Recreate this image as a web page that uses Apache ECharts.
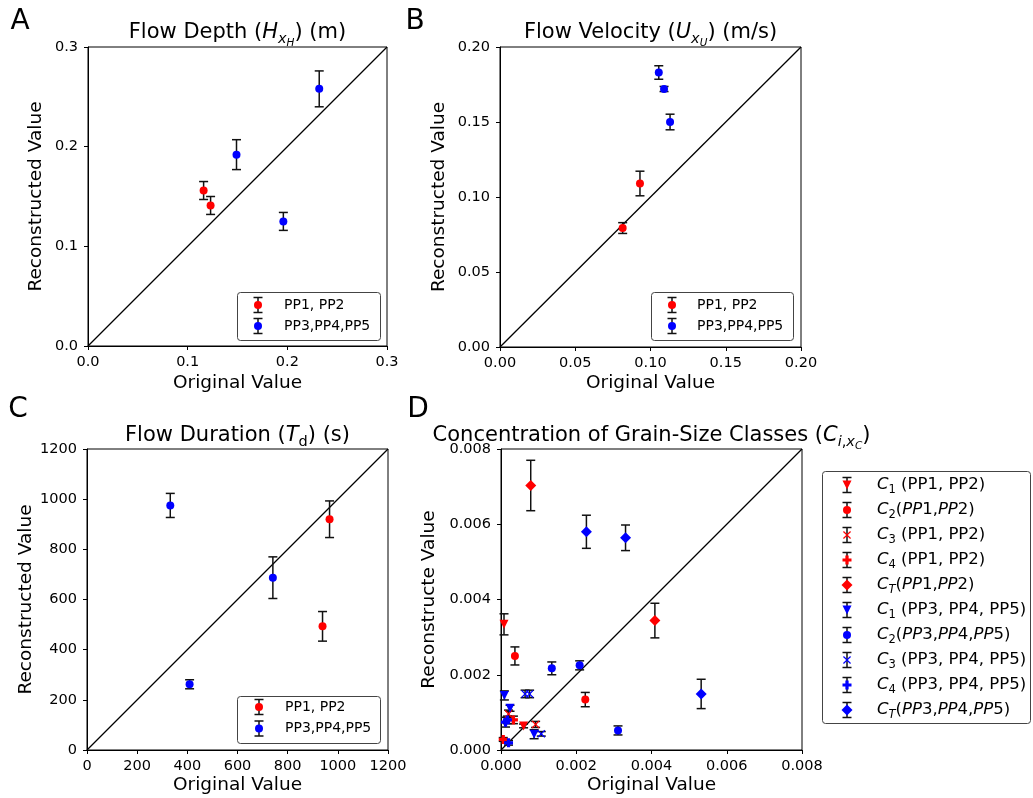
<!DOCTYPE html>
<html>
<head>
<meta charset="utf-8">
<script src="https://cdn.jsdelivr.net/npm/echarts/dist/echarts.min.js"></script>
<style>
  html, body { margin: 0; padding: 0; background: #fff; }
  #chart { width: 1033px; height: 798px; }
</style>
</head>
<body>
<div id="chart"></div>
<script>
// ---------- Panel A: flow depth (m) ----------
const depthRedX = [0.116, 0.123];
const depthRedY = [0.156, 0.141];
const depthRedErr = [0.009, 0.009];
const depthBlueX = [0.149, 0.196, 0.232];
const depthBlueY = [0.192, 0.125, 0.258];
const depthBlueErr = [0.015, 0.009, 0.018];
const depthTicks = [0.0, 0.1, 0.2, 0.3];

// ---------- Panel B: flow velocity (m/s) ----------
const velRedX = [0.0815, 0.093];
const velRedY = [0.0793, 0.109];
const velRedErr = [0.0036, 0.0082];
const velBlueX = [0.1055, 0.109, 0.113];
const velBlueY = [0.183, 0.172, 0.150];
const velBlueErr = [0.0045, 0.0017, 0.0052];
const velTicks = [0.00, 0.05, 0.10, 0.15, 0.20];

// ---------- Panel C: flow duration (s) ----------
const durRedX = [967, 939];
const durRedY = [920, 493];
const durRedErr = [73, 59];
const durBlueX = [332, 409, 741];
const durBlueY = [975, 262, 687];
const durBlueErr = [48, 18, 83];
const durTicks = [0, 200, 400, 600, 800, 1000, 1200];

// ---------- Panel D: grain-size class concentrations ----------
const c1RedX = [0.00008, 0.0006];
const c1RedY = [0.00334, 0.00064];
const c1RedErr = [0.00028, 0.00005];
const c2RedX = [0.00037, 0.00224];
const c2RedY = [0.0025, 0.00134];
const c2RedErr = [0.00024, 0.00019];
const c3RedX = [0.00092, 0.0002];
const c3RedY = [0.00068, 0.00096];
const c3RedErr = [0.00008, 0.0001];
const c4RedX = [0.00033, 0.00006];
const c4RedY = [0.0008, 0.00028];
const c4RedErr = [0.0001, 0.00005];
const ctRedX = [0.00079, 0.00409];
const ctRedY = [0.00703, 0.00344];
const ctRedErr = [0.00067, 0.00046];
const c1BlueX = [0.00009, 0.00024, 0.00088];
const c1BlueY = [0.00145, 0.00111, 0.00042];
const c1BlueErr = [0.00012, 0.00008, 0.00012];
const c2BlueX = [0.00135, 0.00209, 0.00311];
const c2BlueY = [0.00217, 0.00225, 0.00052];
const c2BlueErr = [0.00017, 0.00012, 0.00012];
const c3BlueX = [0.00064, 0.00076, 0.00107];
const c3BlueY = [0.00149, 0.00149, 0.00043];
const c3BlueErr = [0.0001, 0.0001, 0.00006];
const c4BlueX = [0.00012, 0.0002, 0.00017];
const c4BlueY = [0.00074, 0.00019, 0.0008];
const c4BlueErr = [0.00013, 0.00006, 0.0001];
const ctBlueX = [0.00227, 0.00331, 0.00532];
const ctBlueY = [0.0058, 0.00564, 0.00149];
const ctBlueErr = [0.00044, 0.00034, 0.00039];
const concTicks = [0.000, 0.002, 0.004, 0.006, 0.008];

const FONT = 'DejaVu Sans';
const RED = '#ff0000';
const BLUE = '#0000ff';

// marker outlines as polygons in a 10x10 box
const SHAPES = {
  triDown: [[0, 0], [10, 0], [5, 10]],
  cross: [[0, 1.1], [1.1, 0], [5, 3.9], [8.9, 0], [10, 1.1], [6.1, 5], [10, 8.9], [8.9, 10], [5, 6.1], [1.1, 10], [0, 8.9], [3.9, 5]],
  plus: [[3.2, 0], [6.8, 0], [6.8, 3.2], [10, 3.2], [10, 6.8], [6.8, 6.8], [6.8, 10], [3.2, 10], [3.2, 6.8], [0, 6.8], [0, 3.2], [3.2, 3.2]],
  diamond: [[5, 0], [10, 5], [5, 10], [0, 5]]
};
const SIZES = { circle: 8, triDown: 9, cross: 8, plus: 9, diamond: 11 };

function seriesSymbol(kind) {
  if (kind === 'circle') return 'circle';
  const pts = SHAPES[kind];
  return 'path://M' + pts.map(p => p[0] + ',' + p[1]).join('L') + 'Z';
}

// error bar drawn through the axis scales
function errRender(params, api) {
  const x = api.value(0), y = api.value(1), e = api.value(2);
  const p1 = api.coord([x, y + e]);
  const p2 = api.coord([x, y - e]);
  const cap = 4.5;
  const st = { stroke: '#111', lineWidth: 1.5 };
  return {
    type: 'group',
    children: [
      { type: 'line', shape: { x1: p1[0], y1: p1[1], x2: p2[0], y2: p2[1] }, style: st },
      { type: 'line', shape: { x1: p1[0] - cap, y1: p1[1], x2: p1[0] + cap, y2: p1[1] }, style: st },
      { type: 'line', shape: { x1: p2[0] - cap, y1: p2[1], x2: p2[0] + cap, y2: p2[1] }, style: st }
    ]
  };
}

const series = [];
function addGroup(gi, name, xs, ys, es, color, kind) {
  series.push({
    type: 'custom', name: name + ' err', xAxisIndex: gi, yAxisIndex: gi,
    data: xs.map((x, i) => [x, ys[i], es[i]]),
    encode: { x: 0, y: 1 }, renderItem: errRender, z: 3, silent: true, clip: false
  });
  series.push({
    type: 'scatter', name: name, xAxisIndex: gi, yAxisIndex: gi,
    data: xs.map((x, i) => [x, ys[i]]),
    symbol: seriesSymbol(kind), symbolSize: SIZES[kind],
    itemStyle: { color: color, opacity: 1 }, z: 4, silent: true
  });
}
function addDiagonal(gi, max) {
  series.push({
    type: 'line', xAxisIndex: gi, yAxisIndex: gi, data: [[0, 0], [max, max]],
    symbol: 'none', lineStyle: { color: '#000', width: 1.3 }, z: 2, silent: true
  });
}

// panel layout
const panels = [
  { grid: { left: 88, top: 47, width: 299, height: 299 }, ticks: depthTicks, dec: 1, yName: 'Reconstructed Value', yGap: 42, xGap: 28 },
  { grid: { left: 500, top: 47, width: 301, height: 300 }, ticks: velTicks, dec: 2, yName: 'Reconstructed Value', yGap: 51, xGap: 27 },
  { grid: { left: 87, top: 449, width: 301, height: 301 }, ticks: durTicks, dec: 0, yName: 'Reconstructed Value', yGap: 51, xGap: 26 },
  { grid: { left: 501, top: 449, width: 301, height: 301 }, ticks: concTicks, dec: 3, yName: 'Reconstructe Value', yGap: 62, xGap: 26 }
];

const grids = [], xAxes = [], yAxes = [];
panels.forEach((p, i) => {
  grids.push(Object.assign({ show: true, borderColor: '#000', borderWidth: 1, backgroundColor: 'transparent' }, p.grid));
  const t = p.ticks;
  const base = {
    gridIndex: i, type: 'value', min: t[0], max: t[t.length - 1], interval: t[1] - t[0],
    axisLine: { show: true, onZero: false, lineStyle: { color: '#000', width: 1 } },
    axisTick: { show: true, length: 4, lineStyle: { color: '#000', width: 1 } },
    splitLine: { show: false },
    nameLocation: 'middle',
    nameTextStyle: { fontFamily: FONT, fontSize: 18.5, color: '#000' }
  };
  xAxes.push(Object.assign({}, base, {
    name: 'Original Value', nameGap: p.xGap,
    axisLabel: { fontFamily: FONT, fontSize: 14.5, color: '#000', margin: 9, formatter: v => v.toFixed(p.dec) }
  }));
  yAxes.push(Object.assign({}, base, {
    name: p.yName, nameGap: p.yGap, nameRotate: 90,
    axisLabel: { fontFamily: FONT, fontSize: 14.5, color: '#000', margin: 10, formatter: v => v.toFixed(p.dec) }
  }));
  addDiagonal(i, t[t.length - 1]);
});

addGroup(0, 'PP1, PP2', depthRedX, depthRedY, depthRedErr, RED, 'circle');
addGroup(0, 'PP3,PP4,PP5', depthBlueX, depthBlueY, depthBlueErr, BLUE, 'circle');
addGroup(1, 'PP1, PP2', velRedX, velRedY, velRedErr, RED, 'circle');
addGroup(1, 'PP3,PP4,PP5', velBlueX, velBlueY, velBlueErr, BLUE, 'circle');
addGroup(2, 'PP1, PP2', durRedX, durRedY, durRedErr, RED, 'circle');
addGroup(2, 'PP3,PP4,PP5', durBlueX, durBlueY, durBlueErr, BLUE, 'circle');

const concGroups = [
  ['C1 red', c1RedX, c1RedY, c1RedErr, RED, 'triDown', '{i|C}{s|1}{n| (PP1, PP2)}'],
  ['C2 red', c2RedX, c2RedY, c2RedErr, RED, 'circle', '{i|C}{s|2}{n|(}{i|PP}{n|1,}{i|PP}{n|2)}'],
  ['C3 red', c3RedX, c3RedY, c3RedErr, RED, 'cross', '{i|C}{s|3}{n| (PP1, PP2)}'],
  ['C4 red', c4RedX, c4RedY, c4RedErr, RED, 'plus', '{i|C}{s|4}{n| (PP1, PP2)}'],
  ['CT red', ctRedX, ctRedY, ctRedErr, RED, 'diamond', '{i|C}{si|T}{n|(}{i|PP}{n|1,}{i|PP}{n|2)}'],
  ['C1 blue', c1BlueX, c1BlueY, c1BlueErr, BLUE, 'triDown', '{i|C}{s|1}{n| (PP3, PP4, PP5)}'],
  ['C2 blue', c2BlueX, c2BlueY, c2BlueErr, BLUE, 'circle', '{i|C}{s|2}{n|(}{i|PP}{n|3,}{i|PP}{n|4,}{i|PP}{n|5)}'],
  ['C3 blue', c3BlueX, c3BlueY, c3BlueErr, BLUE, 'cross', '{i|C}{s|3}{n| (PP3, PP4, PP5)}'],
  ['C4 blue', c4BlueX, c4BlueY, c4BlueErr, BLUE, 'plus', '{i|C}{s|4}{n| (PP3, PP4, PP5)}'],
  ['CT blue', ctBlueX, ctBlueY, ctBlueErr, BLUE, 'diamond', '{i|C}{si|T}{n|(}{i|PP}{n|3,}{i|PP}{n|4,}{i|PP}{n|5)}']
];
concGroups.forEach(g => addGroup(3, g[0], g[1], g[2], g[3], g[4], g[5]));

// ---------- text styles ----------
const pairRich = {
  n: { fontFamily: FONT, fontSize: 14, fill: '#000' }
};
const concRich = {
  n: { fontFamily: FONT, fontSize: 16.5, fill: '#000' },
  i: { fontFamily: FONT, fontSize: 16.5, fontStyle: 'italic', fill: '#000' },
  s: { fontFamily: FONT, fontSize: 11.5, fill: '#000', padding: [10, 0, 0, 0] },
  si: { fontFamily: FONT, fontSize: 11.5, fontStyle: 'italic', fill: '#000', padding: [10, 0, 0, 0] }
};
const titleRich = {
  t: { fontFamily: FONT, fontSize: 21, fill: '#000' },
  ti: { fontFamily: FONT, fontSize: 21, fontStyle: 'italic', fill: '#000' },
  ts: { fontFamily: FONT, fontSize: 14.5, fill: '#000', padding: [12, 0, 0, 0] },
  tsi: { fontFamily: FONT, fontSize: 14.5, fontStyle: 'italic', fill: '#000', padding: [12, 0, 0, 0] },
  tssi: { fontFamily: FONT, fontSize: 10.5, fontStyle: 'italic', fill: '#000', padding: [21, 0, 0, 0] }
};

const graphics = [];
function addText(text, x, y, align, rich, size) {
  graphics.push({
    type: 'text', silent: true, z: 10,
    style: { text: text, x: x, y: y, align: align, verticalAlign: 'middle', fontFamily: FONT, fontSize: size || 21, fill: '#000', rich: rich }
  });
}
// panel letters
addText('A', 20, 22, 'center', null, 28);
addText('B', 415, 22, 'center', null, 28);
addText('C', 18, 410, 'center', null, 28);
addText('D', 418, 410, 'center', null, 28);
// panel titles
addText('{t|Flow Depth (}{ti|H}{tsi|x}{tssi|H}{t|) (m)}', 237.5, 33, 'center', titleRich);
addText('{t|Flow Velocity (}{ti|U}{tsi|x}{tssi|U}{t|) (m/s)}', 650.5, 33, 'center', titleRich);
addText('{t|Flow Duration (}{ti|T}{ts|d}{t|) (s)}', 237.5, 436, 'center', titleRich);
addText('{t|Concentration of Grain-Size Classes (}{ti|C}{tsi|i}{ts|,}{tsi|x}{tssi|C}{t|)}', 651.5, 436, 'center', titleRich);

function marker(kind, cx, cy, color) {
  const s = SIZES[kind];
  if (kind === 'circle') {
    return { type: 'circle', silent: true, z: 12, shape: { cx: cx, cy: cy, r: s / 2 }, style: { fill: color } };
  }
  const pts = SHAPES[kind].map(p => [cx - s / 2 + p[0] * s / 10, cy - s / 2 + p[1] * s / 10]);
  return { type: 'polygon', silent: true, z: 12, shape: { points: pts }, style: { fill: color } };
}
function errIcon(cx, cy, half) {
  const st = { stroke: '#111', lineWidth: 1.5 };
  return [
    { type: 'line', silent: true, z: 11, shape: { x1: cx, y1: cy - half, x2: cx, y2: cy + half }, style: st },
    { type: 'line', silent: true, z: 11, shape: { x1: cx - 4.5, y1: cy - half, x2: cx + 4.5, y2: cy - half }, style: st },
    { type: 'line', silent: true, z: 11, shape: { x1: cx - 4.5, y1: cy + half, x2: cx + 4.5, y2: cy + half }, style: st }
  ];
}
function legendBox(box, iconX, textX, rows, rich, size) {
  graphics.push({
    type: 'rect', silent: true, z: 9,
    shape: { x: box[0], y: box[1], width: box[2], height: box[3], r: 3 },
    style: { fill: 'rgba(255,255,255,0.85)', stroke: '#444', lineWidth: 1 }
  });
  rows.forEach(r => {
    errIcon(iconX, r.y, 7.5).forEach(g => graphics.push(g));
    graphics.push(marker(r.kind, iconX, r.y, r.color));
    addText(r.text, textX, r.y, 'left', rich, size);
  });
}

const pairRows = (y0, y1) => [
  { y: y0, kind: 'circle', color: RED, text: 'PP1, PP2' },
  { y: y1, kind: 'circle', color: BLUE, text: 'PP3,PP4,PP5' }
];
legendBox([237.5, 292.5, 143, 48], 258, 284, pairRows(305, 326), pairRich, 14);
legendBox([651.5, 292.5, 142, 48], 672, 697, pairRows(305, 326), pairRich, 14);
legendBox([237.5, 696.5, 143, 47], 259, 285, pairRows(707, 728.5), pairRich, 14);
legendBox([822.5, 471.5, 208, 252], 847, 877,
  concGroups.map((g, k) => ({ y: 485 + 25 * k, kind: g[5], color: g[4], text: g[6] })), concRich, 16.5);

const chart = echarts.init(document.getElementById('chart'), null, { renderer: 'canvas' });
chart.setOption({
  animation: false,
  backgroundColor: '#fff',
  textStyle: { fontFamily: FONT },
  grid: grids,
  xAxis: xAxes,
  yAxis: yAxes,
  series: series,
  graphic: graphics
});
</script>
</body>
</html>
